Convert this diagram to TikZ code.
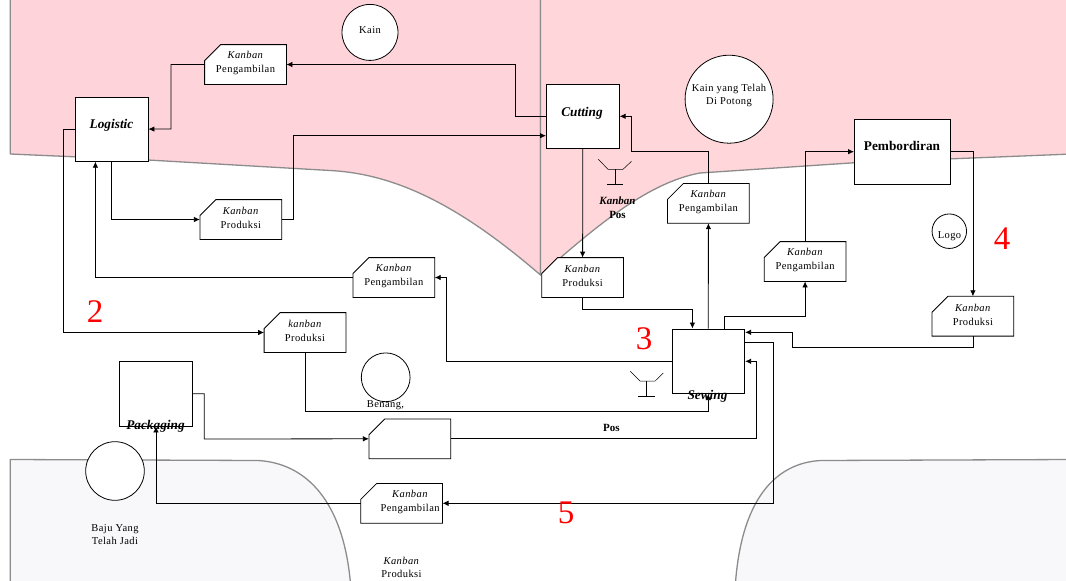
\documentclass[tikz,border=0pt]{standalone}
\usepackage{fontspec}
\setmainfont{Liberation Serif}
\newfontfamily\kbfont[LetterSpace=4]{Liberation Serif}
\usetikzlibrary{arrows.meta}
\definecolor{pinkL}{HTML}{FFD3DA}
\definecolor{pinkR}{HTML}{FFD6D9}
\definecolor{greyP}{HTML}{F8F8FA}
\definecolor{edgeP}{HTML}{8C8C8C}
% card with the upper left corner cut off
\makeatletter
\pgfdeclareshape{kanbancard}{
	\inheritsavedanchors[from=rectangle]
	\inheritanchorborder[from=rectangle]
	\inheritanchor[from=rectangle]{center}
	\inheritanchor[from=rectangle]{north}
	\inheritanchor[from=rectangle]{south}
	\inheritanchor[from=rectangle]{east}
	\inheritanchor[from=rectangle]{west}
	\backgroundpath{
		\southwest \pgf@xa=\pgf@x \pgf@ya=\pgf@y
		\northeast \pgf@xb=\pgf@x \pgf@yb=\pgf@y
		\pgfpathmoveto{\pgfqpoint{\pgf@xa}{\pgf@ya}}
		\pgfpathlineto{\pgfqpoint{\pgf@xb}{\pgf@ya}}
		\pgfpathlineto{\pgfqpoint{\pgf@xb}{\pgf@yb}}
		\pgfpathlineto{\pgfqpoint{\dimexpr\pgf@xa+16pt\relax}{\pgf@yb}}
		\pgfpathlineto{\pgfqpoint{\pgf@xa}{\dimexpr\pgf@yb-16pt\relax}}
		\pgfpathclose
	}
}
\makeatother
\tikzset{
	panel/.style={draw=edgeP,line width=1.3pt,line join=round},
	proc/.style={rectangle,draw,fill=white,line width=.8pt,inner sep=0pt},
	kanban/.style={shape=kanbancard,draw,fill=white,line width=.8pt,inner sep=0pt,minimum width=81pt,minimum height=39pt},
	kbtext/.style={align=center,font=\kbfont\fontsize{10.5}{13.5}\selectfont,yshift=1.5pt,inner sep=0pt},
	txt/.style={align=center,font=\kbfont\fontsize{10.5}{13}\selectfont,inner sep=0pt},
	stock/.style={circle,draw,fill=white,line width=.8pt,inner sep=0pt},
	title/.style={font=\fontsize{13.3}{15}\selectfont\bfseries,inner sep=0pt},
	ititle/.style={font=\fontsize{13.3}{15}\selectfont\bfseries\itshape,inner sep=0pt},
	bold/.style={align=center,font=\fontsize{11}{14}\selectfont\bfseries,inner sep=0pt},
	num/.style={text=red,font=\fontsize{33}{36}\selectfont,inner sep=0pt},
	flow/.style={draw,line width=.8pt,-{Latex[length=6pt,width=5.5pt]}},
	post/.style={draw,line width=.5pt},
}
\begin{document}
\begin{tikzpicture}[x=1pt,y=-1pt]
	\useasboundingbox (0,0) rectangle (1066,581);
	% panels
	\path[panel,fill=pinkL] (10.3,-5) -- (10.3,154) -- (148,160) -- (330,170.5) .. controls (400,174) and (465,210) .. (540.5,275) -- (540.5,-5) -- cycle;
	\path[panel,fill=pinkR] (540.5,-5) -- (540.5,275) .. controls (590,232) and (645,183) .. (700,173) -- (855,162.7) -- (1072,154) -- (1072,-5) -- cycle;
	\path[panel,fill=greyP] (10.3,590) -- (10.3,459.5) -- (258,460.5) .. controls (305,463) and (345,500) .. (351,590) -- cycle;
	\path[panel,fill=greyP] (735,590) .. controls (740,500) and (775,463) .. (820.6,460.5) -- (1072,459.5) -- (1072,590) -- cycle;
	% processes
	\node[proc,minimum width=72.6pt,minimum height=64.3pt] (Logistic) at (111.7,129.1) {};
	\node[proc,minimum width=72.8pt,minimum height=64.5pt] (Cutting) at (582.8,116.3) {};
	\node[proc,minimum width=96pt,minimum height=64.7pt] (Pembordiran) at (902.4,151.7) {};
	\node[proc,minimum width=72.8pt,minimum height=64.7pt] (Sewing) at (708.3,361.3) {};
	\node[proc,minimum width=73pt,minimum height=64.7pt] (Packaging) at (156,393.7) {};
	% kanban cards
	\node[kanban,label={[kbtext]center:\textit{Kanban}\\Pengambilan}] (kPengA) at (245.5,64.5) {};
	\node[kanban,label={[kbtext]center:\textit{Kanban}\\Produksi}] (kProdA) at (240.8,219.5) {};
	\node[kanban,label={[kbtext]center:\textit{Kanban}\\Pengambilan}] (kPengB) at (393.8,277.5) {};
	\node[kanban,label={[kbtext]center:\textit{kanban}\\Produksi}] (kProdB) at (305,332.5) {};
	\node[kanban,label={[kbtext]center:\textit{Kanban}\\Produksi}] (kProdC) at (582.6,277.5) {};
	\node[kanban,label={[kbtext]center:\textit{Kanban}\\Pengambilan}] (kPengC) at (708.4,203.3) {};
	\node[kanban,label={[kbtext]center:\textit{Kanban}\\Pengambilan}] (kPengD) at (805.1,261.5) {};
	\node[kanban,label={[kbtext]center:\textit{Kanban}\\Produksi}] (kProdD) at (972.9,316.2) {};
	\node[kanban] (kEmpty) at (409.8,438.8) {};
	\node[kanban,label={[kbtext,xshift=8.5pt]center:\textit{Kanban}\\Pengambilan}] (kPengE) at (401.6,503.3) {};
	% stock
	\node[stock,minimum size=56pt] (Kain) at (370,32.4) {};
	\node[stock,minimum size=88pt] (KainPotong) at (729.1,99.2) {};
	\node[stock,minimum size=34.5pt] (LogoC) at (949.3,231.2) {};
	\node[stock,minimum size=48.8pt] (Benang) at (385.7,377.3) {};
	\node[stock,minimum size=58.6pt] (Baju) at (115,471) {};
	% coordinates for bends
	\coordinate (a1) at (515.5,64.5);
	\coordinate (a2) at (171,129);
	\coordinate (a3) at (63.4,332.5);
	\coordinate (a4) at (293,135.7);
	\coordinate (a5) at (446.6,361.3);
	\coordinate (a6) at (630.9,151);
	\coordinate (a7) at (692.4,309);
	\coordinate (a8) at (724.5,316.7);
	\coordinate (a9) at (792.2,347.7);
	\coordinate (a10) at (204.2,439);
	\coordinate (a11) at (756.7,361.3);
	\coordinate (a12) at (773,342);
	\coordinate (a13) at (305,411.3);
	\coordinate (a14) at (792.2,332.3);
	\coordinate (a15) at (95.4,277.5);
	% connectors
	\draw[flow] (Cutting.west) -| (a1) -- (kPengA.east);
	\draw[flow] (kPengA.west) -| (a2) -- (Logistic.east);
	\draw[flow] (Logistic.west) -| (a3) -- (kProdB.west);
	\draw[flow] (Logistic.south) |- (kProdA.west);
	\draw[flow] (kProdA.east) -| (a4) -- (a4 -| Cutting.west);
	\draw[flow] (kPengB.west) -- (a15) -- (a15 |- Logistic.south);
	\draw[flow] (Sewing.west) -| (a5) |- (kPengB.east);
	\draw[flow] (kProdB.south) -- (a13) -| (Sewing.south);
	\draw[flow] (Cutting.south) -- (kProdC.north);
	\draw[flow] (kProdC.south) |- (a7) -- (a7 |- Sewing.north);
	\draw[flow] (Sewing.north) -- (kPengC.south);
	\draw[flow] (kPengC.north) |- (a6) |- (Cutting.east);
	\draw[flow] (a8 |- Sewing.north) -- (a8) -| (kPengD.south);
	\draw[flow] (kPengD.north) |- (Pembordiran.west);
	\draw[flow] (Pembordiran.east) -| (kProdD.north);
	\draw[flow] (kProdD.south) |- (a9) -- (a14) -- (a14 -| Sewing.east);
	\draw[flow] (Packaging.east) -| (a10) -- (kEmpty.west);
	\draw[flow] (kEmpty.east) -| (a11) -- (Sewing.east);
	\draw[flow] (a12 -| Sewing.east) -- (a12) |- (kPengE.east);
	\draw[flow] (kPengE.west) -| (Packaging.south);
	% kanban posts
	\draw[post] (598.4,159.3) -- (608,169.3) -- (623,169.3) -- (631.5,161.3);
	\draw[post] (614.8,169.3) -- (614.8,184) (606.6,184) -- (623,184);
	\draw[post] (630.2,371.3) -- (640,381) -- (655.1,381) -- (663.3,373);
	\draw[post] (646.6,381) -- (646.6,396) (638.4,396) -- (655,396);
	% labels
	\node[ititle] (tLogistic) at (111.5,125.5) {Logistic};
	\node[ititle] (tCutting) at (582,113) {Cutting};
	\node[title] (tPembordiran) at (902,146) {Pembordiran};
	\node[ititle] (tSewing) at (707.5,396) {Sewing};
	\node[ititle] (tPackaging) at (155.5,426) {Packaging};
	\node[txt] (tKain) at (370,30) {Kain};
	\node[txt] (tKainPotong) at (729,95.2) {Kain yang Telah\\Di Potong};
	\node[txt] (tLogo) at (949.5,236.5) {Logo};
	\node[txt] (tBenang) at (385.5,405) {Benang,};
	\node[txt] (tBaju) at (115,535) {Baju Yang\\Telah Jadi};
	\node[txt] (tProduksi) at (401.5,567) {\textit{Kanban}\\Produksi};
	\node[bold] (tPost) at (617.5,208) {\textit{Kanban}\\Pos};
	\node[bold] (tPos) at (611.4,428.3) {Pos};
	\node[num] (n2) at (95,312) {2};
	\node[num] (n3) at (644,338.5) {3};
	\node[num] (n4) at (1002,239) {4};
	\node[num] (n5) at (566,512.7) {5};
\end{tikzpicture}
\end{document}
